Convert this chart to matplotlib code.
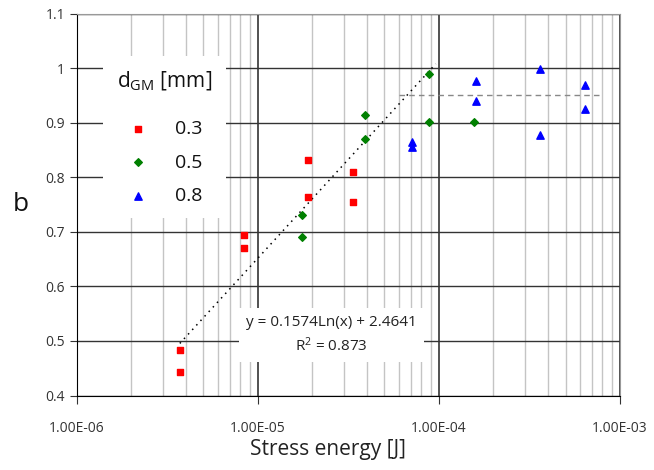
import matplotlib
matplotlib.use('Agg')
import matplotlib.pyplot as plt
from matplotlib.ticker import FixedLocator, LogLocator, NullFormatter
import numpy as np

plt.rcParams['font.family'] = ['Open Sans', 'DejaVu Sans']

# data
x_03 = [3.7e-6, 3.7e-6, 8.4e-6, 8.4e-6, 1.89e-5, 1.89e-5, 3.35e-5, 3.35e-5]
b_03 = [0.483, 0.443, 0.694, 0.670, 0.831, 0.764, 0.809, 0.754]

x_05 = [1.75e-5, 1.75e-5, 3.9e-5, 3.9e-5, 8.8e-5, 8.8e-5, 1.57e-4]
b_05 = [0.730, 0.690, 0.915, 0.870, 0.989, 0.901, 0.902]

x_08 = [7.1e-5, 7.1e-5, 1.6e-4, 1.6e-4, 3.6e-4, 3.6e-4, 6.4e-4, 6.4e-4]
b_08 = [0.865, 0.856, 0.977, 0.939, 0.999, 0.878, 0.970, 0.925]

# fitted trend y = a ln(x) + c
fit_a = 0.1574
fit_c = 2.4641
fit_r2 = 0.873
fit_range = [3.7e-6, 9.6e-5]

# plateau line
plateau_b = 0.95
plateau_range = [6.0e-5, 7.8e-4]

fig = plt.figure(figsize=(6.54, 4.70), dpi=100)
ax = fig.add_axes([0.1177, 0.1585, 0.948 - 0.1177, 0.971 - 0.1585])

ax.set_xscale('log')
ax.set_xlim(1e-6, 1e-3)
ax.set_ylim(0.4, 1.1)

# grid
ax.xaxis.set_minor_locator(LogLocator(base=10, subs=np.arange(2, 10)))
ax.xaxis.set_minor_formatter(NullFormatter())
ax.grid(True, which='minor', axis='x', color='#c4c4c4', lw=1.0)
ax.grid(True, which='major', axis='x', color='#222222', lw=1.1)
ax.yaxis.set_major_locator(FixedLocator(np.round(np.arange(0.4, 1.11, 0.1), 1)))
ax.grid(True, which='major', axis='y', color='#333333', lw=1.0)
ax.set_axisbelow(True)

for s in ['top', 'right']:
    ax.spines[s].set_color('#999999')
for s in ['left', 'bottom']:
    ax.spines[s].set_color('black')

ax.tick_params(axis='x', which='major', length=6, direction='out', color='#333333',
               labelsize=10, labelcolor='#333333', pad=12)
ax.tick_params(axis='x', which='minor', length=0)
ax.tick_params(axis='y', length=5, direction='out', color='#333333',
               labelsize=10, labelcolor='#333333')

ax.set_xticks([1e-6, 1e-5, 1e-4, 1e-3])
ax.set_xticklabels(['1.00E-06', '1.00E-05', '1.00E-04', '1.00E-03'])
ax.set_yticklabels(['0.4', '0.5', '0.6', '0.7', '0.8', '0.9', '1', '1.1'])

# trend and plateau
xf = np.geomspace(fit_range[0], fit_range[1], 100)
ax.plot(xf, fit_a * np.log(xf) + fit_c, color='black', ls=(0, (1, 3)), lw=1.1, zorder=3)
ax.plot(plateau_range, [plateau_b, plateau_b], color='#888888', ls=(0, (4, 3)), lw=1.0, zorder=3)

ax.scatter(x_03, b_03, marker='s', s=20, color='#ff0000', label='0.3', zorder=4)
ax.scatter(x_05, b_05, marker='D', s=15, color='#008000', label='0.5', zorder=4)
ax.scatter(x_08, b_08, marker='^', s=28, color='#0000ff', label='0.8', zorder=4)

ax.text(2.55e-5, 0.511, 'y = 0.1574Ln(x) + 2.4641\n$\\mathregular{R^2}$ = %.3f' % fit_r2,
        ha='center', va='center', fontsize=11, color='#222222', linespacing=1.45,
        bbox=dict(facecolor='white', edgecolor='none', pad=5), zorder=5)

leg = ax.legend(title='$\\mathregular{d_{GM}}$ [mm]', loc='upper left',
                bbox_to_anchor=(0.03, 0.915), frameon=True, fancybox=False,
                edgecolor='none', facecolor='white', framealpha=1,
                fontsize=14, title_fontsize=15, handlelength=1.2, handletextpad=1.3,
                labelspacing=0.78, borderpad=0.7, markerscale=1.0)
leg._legend_box.align = 'center'
leg._legend_box.sep = 20
leg.get_title().set_color('#111111')
for t in leg.get_texts():
    t.set_color('#111111')

ax.set_xlabel('Stress energy [J]', fontsize=15, color='#222222', labelpad=4)
ax.xaxis.set_label_coords(0.463, -0.115)
ax.set_ylabel('b', fontsize=19, rotation=0, color='#111111', labelpad=18, va='center')

fig.savefig('out.png', dpi=100)
